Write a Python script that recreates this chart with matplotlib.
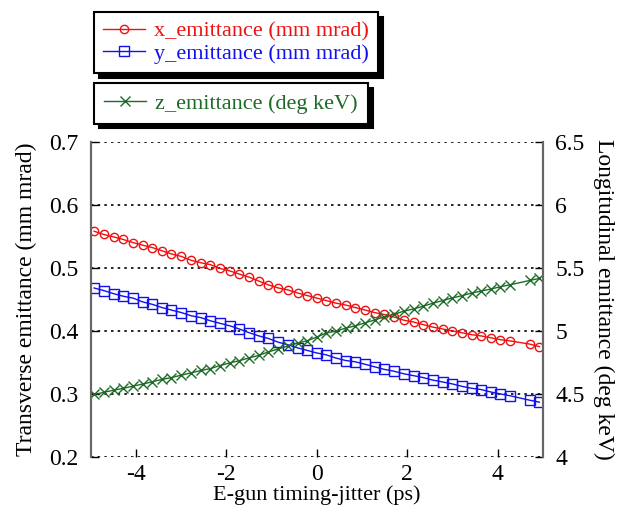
import matplotlib
matplotlib.use("Agg")
import matplotlib.pyplot as plt

# timing jitter (ps); one sample near 4.5 ps is missing in the source
jitter = [-4.92, -4.71, -4.49, -4.28, -4.06, -3.85, -3.63, -3.42, -3.21, -2.99,
          -2.78, -2.56, -2.35, -2.14, -1.92, -1.71, -1.49, -1.28, -1.07, -0.85,
          -0.64, -0.42, -0.21, 0.00, 0.21, 0.42, 0.64, 0.85, 1.07, 1.28,
          1.49, 1.71, 1.92, 2.14, 2.35, 2.56, 2.78, 2.99, 3.21, 3.42,
          3.63, 3.85, 4.06, 4.28, 4.71, 4.92]

x_emit = [0.558, 0.553, 0.549, 0.545, 0.540, 0.536, 0.532, 0.527, 0.522, 0.518,
          0.512, 0.508, 0.505, 0.499, 0.495, 0.490, 0.485, 0.479, 0.473, 0.468,
          0.465, 0.460, 0.456, 0.452, 0.448, 0.444, 0.441, 0.437, 0.433, 0.429,
          0.426, 0.422, 0.417, 0.414, 0.410, 0.406, 0.403, 0.400, 0.397, 0.394,
          0.392, 0.389, 0.386, 0.384, 0.379, 0.375]

y_emit = [0.468, 0.464, 0.459, 0.455, 0.452, 0.446, 0.442, 0.437, 0.433, 0.429,
          0.424, 0.421, 0.416, 0.412, 0.408, 0.403, 0.397, 0.392, 0.388, 0.382,
          0.378, 0.373, 0.369, 0.365, 0.362, 0.357, 0.353, 0.351, 0.347, 0.343,
          0.339, 0.336, 0.332, 0.329, 0.326, 0.322, 0.319, 0.316, 0.312, 0.309,
          0.307, 0.303, 0.300, 0.297, 0.290, 0.287]

z_emit = [4.496, 4.512, 4.530, 4.544, 4.562, 4.578, 4.597, 4.615, 4.630, 4.649,
          4.667, 4.686, 4.701, 4.725, 4.746, 4.764, 4.786, 4.806, 4.833, 4.857,
          4.880, 4.904, 4.922, 4.951, 4.983, 4.998, 5.022, 5.040, 5.064, 5.087,
          5.111, 5.132, 5.156, 5.174, 5.195, 5.219, 5.240, 5.261, 5.279, 5.300,
          5.316, 5.332, 5.350, 5.366, 5.400, 5.416]

x_ticks = [-4, -2, 0, 2, 4]
left_ticks = [0.2, 0.3, 0.4, 0.5, 0.6, 0.7]
right_ticks = [4, 4.5, 5, 5.5, 6, 6.5]

RED, BLUE, GREEN = "#ee1111", "#1111ee", "#1e6a28"

plt.rcParams["font.family"] = ["Liberation Serif", "DejaVu Serif"]
plt.rcParams["font.size"] = 17

fig = plt.figure(figsize=(6.17, 5.09), dpi=100)
ax = fig.add_axes([90.5 / 617, 52 / 509, 452.5 / 617, 315.3 / 509])
ax2 = ax.twinx()

l1, = ax.plot(jitter, x_emit, "-", color=RED, lw=1, marker="o", ms=6,
              mfc="none", mec=RED, mew=1, label="x_emittance (mm mrad)")
l2, = ax.plot(jitter, y_emit, "-", color=BLUE, lw=1, marker="s", ms=6.5,
              mfc="none", mec=BLUE, mew=1, label="y_emittance (mm mrad)")
l3, = ax2.plot(jitter, z_emit, "-", color=GREEN, lw=1, marker="x", ms=7,
               mew=1, label="z_emittance (deg keV)")

ax.set_xlim(-5, 5)
ax.set_ylim(0.2, 0.7)
ax2.set_ylim(4, 6.5)
ax.set_xticks(x_ticks)
ax.set_xticklabels([str(t) for t in x_ticks])
ax.set_yticks(left_ticks)
ax.set_yticklabels(["0.2", "0.3", "0.4", "0.5", "0.6", "0.7"])
ax2.set_yticks(right_ticks)
ax2.set_yticklabels(["4", "4.5", "5", "5.5", "6", "6.5"])

for t in left_ticks:
    ax.axhline(t, color="black", lw=1.2, ls=(0, (1.5, 2.5)), zorder=0)

for a in (ax, ax2):
    a.spines["top"].set_visible(False)
    a.spines["bottom"].set_visible(False)
    a.spines["left"].set_color("#666666")
    a.spines["right"].set_color("#666666")
    a.spines["left"].set_linewidth(1.5)
    a.spines["right"].set_linewidth(1.5)
ax.tick_params(direction="in", length=6, width=1, pad=9)
ax.tick_params(axis="x", pad=5)
ax2.tick_params(direction="in", length=6, width=1, pad=9)

ax.set_xlabel("E-gun timing-jitter (ps)", labelpad=0, fontsize=16)
ax.set_ylabel("Transverse emittance (mm mrad)", labelpad=8)
ax2.set_ylabel("Longitudinal emittance (deg keV)", rotation=270, labelpad=21)

shadow = {"color": "black", "alpha": 1, "ox": 3.5, "oy": -3.5}
leg1 = fig.legend(handles=[l1, l2], loc="upper left",
                  bbox_to_anchor=(94 / 617, 1 - 12 / 509), borderaxespad=0,
                  fancybox=False, edgecolor="black", shadow=shadow,
                  labelcolor="linecolor", handlelength=1.9, handletextpad=0.4,
                  borderpad=0.4, labelspacing=0.1, framealpha=1, fontsize=16)
leg1.get_frame().set_linewidth(1.5)
leg2 = fig.legend(handles=[l3], loc="upper left",
                  bbox_to_anchor=(94 / 617, 1 - 83 / 509), borderaxespad=0,
                  fancybox=False, edgecolor="black", shadow=shadow,
                  labelcolor="linecolor", handlelength=1.9, handletextpad=0.4,
                  borderpad=0.45, framealpha=1, fontsize=16)
leg2.get_frame().set_linewidth(1.5)

fig.savefig("out.png", dpi=100)
